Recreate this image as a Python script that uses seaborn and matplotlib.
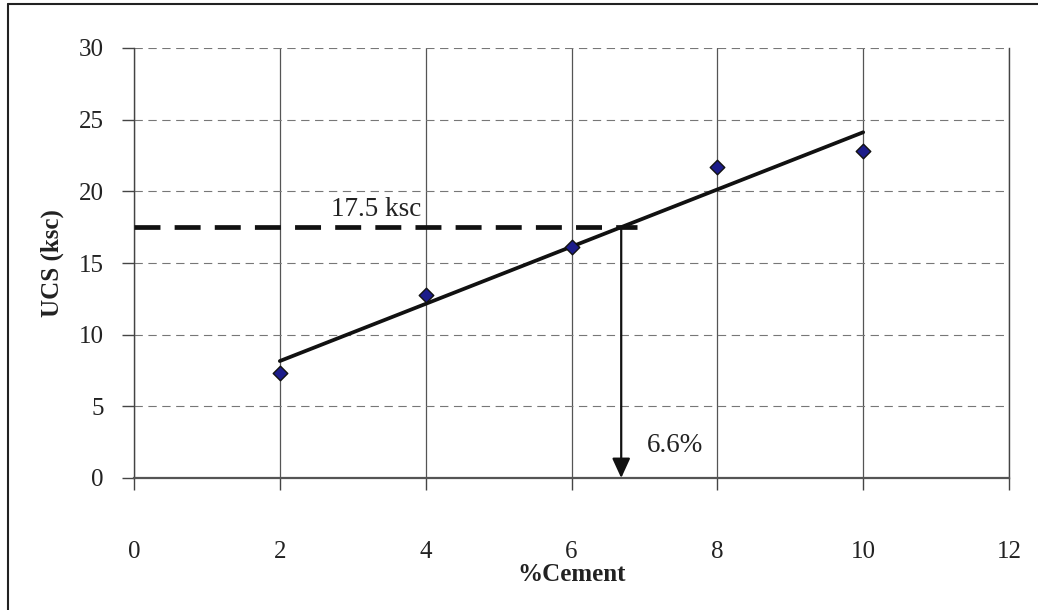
import numpy as np
import pandas as pd
import matplotlib
matplotlib.use("Agg")
import matplotlib.pyplot as plt
from matplotlib.lines import Line2D
from matplotlib.patches import ArrowStyle
import seaborn as sns

# Unconfined compressive strength versus cement content
cement_pct = [2, 4, 6, 8, 10]
ucs_ksc = [7.3, 12.8, 16.1, 21.7, 22.8]
target_ucs = 17.5
target_label = "17.5 ksc"
cement_label = "6.6%"
x_ticks = [0, 2, 4, 6, 8, 10, 12]
y_ticks = [0, 5, 10, 15, 20, 25, 30]

df = pd.DataFrame({"cement": cement_pct, "ucs": ucs_ksc})

sns.set_theme(style="white")
plt.rcParams["font.family"] = ["Liberation Serif", "DejaVu Serif"]

fig = plt.figure(figsize=(10.38, 6.10), dpi=100)
ax = fig.add_axes([134 / 1038, 1 - 478 / 610, (1009 - 134) / 1038, (478 - 48) / 610])

# linear trend line over the tested range
sns.regplot(data=df, x="cement", y="ucs", ci=None, scatter=False, ax=ax,
            line_kws=dict(color="#111111", lw=2.7, zorder=4))
sns.scatterplot(data=df, x="cement", y="ucs", marker="D", s=55,
                color="#1c1c8a", edgecolor="#111111", linewidth=1.0,
                ax=ax, zorder=5)

# cement content needed for the target strength
slope, intercept = np.polyfit(cement_pct, ucs_ksc, 1)
x_hit = (target_ucs - intercept) / slope

ax.plot([0, x_hit + 0.22], [target_ucs, target_ucs], color="#111111",
        lw=3.4, linestyle=(0, (5.5, 3.0)), zorder=3, solid_capstyle="butt")
ax.annotate("", xy=(x_hit, 0), xytext=(x_hit, target_ucs),
            arrowprops=dict(arrowstyle=ArrowStyle("-|>", head_length=1.2, head_width=0.55),
                            mutation_scale=10, lw=1.6, color="#111111",
                            shrinkA=0, shrinkB=0), zorder=4)
ax.text(3.32, 18.7, target_label, ha="center", va="center", fontsize=19.5, color="#222222")
ax.text(7.42, 2.3, cement_label, ha="center", va="center", fontsize=19.5, color="#222222")

ax.set_xlim(0, 12)
ax.set_ylim(0, 30)
ax.set_xticks(x_ticks)
ax.set_yticks(y_ticks)

ax.grid(axis="y", color="#777777", lw=0.8, linestyle=(0, (7.5, 5.0)))
ax.grid(axis="x", color="#555555", lw=0.9, linestyle="-")
ax.set_axisbelow(True)

for side in ["left", "bottom", "right"]:
    ax.spines[side].set_visible(True)
    ax.spines[side].set_color("#444444")
    ax.spines[side].set_linewidth(1.0)
ax.spines["bottom"].set_linewidth(1.6)
ax.spines["bottom"].set_color("#555555")
ax.spines["top"].set_visible(False)

ax.tick_params(axis="x", direction="out", length=8.6, width=1.0, color="#444444",
               pad=36.5, labelsize=18, labelcolor="#222222", bottom=True)
ax.tick_params(axis="y", direction="out", length=8.6, width=1.0, color="#444444",
               pad=13, labelsize=18, labelcolor="#222222", left=True)

ax.set_xlabel("%Cement", fontsize=18, fontweight="bold", color="#222222", labelpad=0)
ax.set_ylabel("UCS (ksc)", fontsize=18, fontweight="bold", color="#222222", labelpad=11)

# frame lines along the top and left of the figure
fig.add_artist(Line2D([8 / 1038, 1.0], [1 - 4 / 610, 1 - 4 / 610],
                      transform=fig.transFigure, color="#222222", lw=1.5))
fig.add_artist(Line2D([8 / 1038, 8 / 1038], [0.0, 1 - 4 / 610],
                      transform=fig.transFigure, color="#222222", lw=1.5))

fig.savefig("out.png", dpi=100, facecolor="white")
